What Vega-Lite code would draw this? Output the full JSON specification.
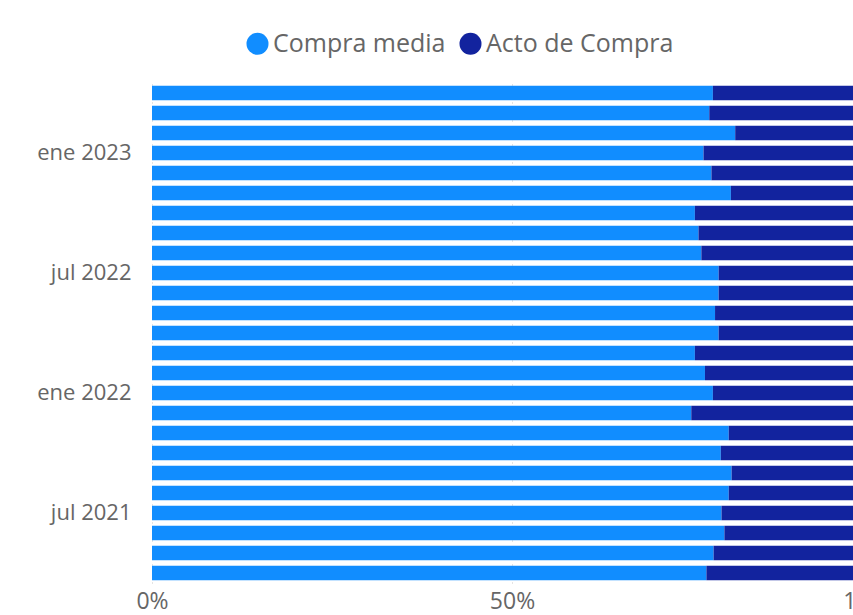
{
  "$schema": "https://vega.github.io/schema/vega-lite/v6.json",
  "autosize": {"type": "none"},
  "width": 701,
  "height": 500,
  "padding": {"left": 152, "top": 83, "right": 0, "bottom": 32},
  "background": "white",
  "config": {"view": {"stroke": null}, "font": "Open Sans"},
  "data": {
    "values": [
      {"mes": "abr 2023", "serie": "Compra media", "orden": 1, "valor": 77.9},
      {"mes": "abr 2023", "serie": "Acto de Compra", "orden": 2, "valor": 22.1},
      {"mes": "mar 2023", "serie": "Compra media", "orden": 1, "valor": 77.4},
      {"mes": "mar 2023", "serie": "Acto de Compra", "orden": 2, "valor": 22.6},
      {"mes": "feb 2023", "serie": "Compra media", "orden": 1, "valor": 81.0},
      {"mes": "feb 2023", "serie": "Acto de Compra", "orden": 2, "valor": 19.0},
      {"mes": "ene 2023", "serie": "Compra media", "orden": 1, "valor": 76.6},
      {"mes": "ene 2023", "serie": "Acto de Compra", "orden": 2, "valor": 23.4},
      {"mes": "dic 2022", "serie": "Compra media", "orden": 1, "valor": 77.7},
      {"mes": "dic 2022", "serie": "Acto de Compra", "orden": 2, "valor": 22.3},
      {"mes": "nov 2022", "serie": "Compra media", "orden": 1, "valor": 80.4},
      {"mes": "nov 2022", "serie": "Acto de Compra", "orden": 2, "valor": 19.6},
      {"mes": "oct 2022", "serie": "Compra media", "orden": 1, "valor": 75.4},
      {"mes": "oct 2022", "serie": "Acto de Compra", "orden": 2, "valor": 24.6},
      {"mes": "sept 2022", "serie": "Compra media", "orden": 1, "valor": 75.9},
      {"mes": "sept 2022", "serie": "Acto de Compra", "orden": 2, "valor": 24.1},
      {"mes": "ago 2022", "serie": "Compra media", "orden": 1, "valor": 76.3},
      {"mes": "ago 2022", "serie": "Acto de Compra", "orden": 2, "valor": 23.7},
      {"mes": "jul 2022", "serie": "Compra media", "orden": 1, "valor": 78.7},
      {"mes": "jul 2022", "serie": "Acto de Compra", "orden": 2, "valor": 21.3},
      {"mes": "jun 2022", "serie": "Compra media", "orden": 1, "valor": 78.7},
      {"mes": "jun 2022", "serie": "Acto de Compra", "orden": 2, "valor": 21.3},
      {"mes": "may 2022", "serie": "Compra media", "orden": 1, "valor": 78.2},
      {"mes": "may 2022", "serie": "Acto de Compra", "orden": 2, "valor": 21.8},
      {"mes": "abr 2022", "serie": "Compra media", "orden": 1, "valor": 78.7},
      {"mes": "abr 2022", "serie": "Acto de Compra", "orden": 2, "valor": 21.3},
      {"mes": "mar 2022", "serie": "Compra media", "orden": 1, "valor": 75.4},
      {"mes": "mar 2022", "serie": "Acto de Compra", "orden": 2, "valor": 24.6},
      {"mes": "feb 2022", "serie": "Compra media", "orden": 1, "valor": 76.8},
      {"mes": "feb 2022", "serie": "Acto de Compra", "orden": 2, "valor": 23.2},
      {"mes": "ene 2022", "serie": "Compra media", "orden": 1, "valor": 77.9},
      {"mes": "ene 2022", "serie": "Acto de Compra", "orden": 2, "valor": 22.1},
      {"mes": "dic 2021", "serie": "Compra media", "orden": 1, "valor": 74.9},
      {"mes": "dic 2021", "serie": "Acto de Compra", "orden": 2, "valor": 25.1},
      {"mes": "nov 2021", "serie": "Compra media", "orden": 1, "valor": 80.1},
      {"mes": "nov 2021", "serie": "Acto de Compra", "orden": 2, "valor": 19.9},
      {"mes": "oct 2021", "serie": "Compra media", "orden": 1, "valor": 79.0},
      {"mes": "oct 2021", "serie": "Acto de Compra", "orden": 2, "valor": 21.0},
      {"mes": "sept 2021", "serie": "Compra media", "orden": 1, "valor": 80.5},
      {"mes": "sept 2021", "serie": "Acto de Compra", "orden": 2, "valor": 19.5},
      {"mes": "ago 2021", "serie": "Compra media", "orden": 1, "valor": 80.1},
      {"mes": "ago 2021", "serie": "Acto de Compra", "orden": 2, "valor": 19.9},
      {"mes": "jul 2021", "serie": "Compra media", "orden": 1, "valor": 79.1},
      {"mes": "jul 2021", "serie": "Acto de Compra", "orden": 2, "valor": 20.9},
      {"mes": "jun 2021", "serie": "Compra media", "orden": 1, "valor": 79.5},
      {"mes": "jun 2021", "serie": "Acto de Compra", "orden": 2, "valor": 20.5},
      {"mes": "may 2021", "serie": "Compra media", "orden": 1, "valor": 78.0},
      {"mes": "may 2021", "serie": "Acto de Compra", "orden": 2, "valor": 22.0},
      {"mes": "abr 2021", "serie": "Compra media", "orden": 1, "valor": 77.0},
      {"mes": "abr 2021", "serie": "Acto de Compra", "orden": 2, "valor": 23.0}
    ]
  },
  "mark": {"type": "bar", "clip": true},
  "encoding": {
    "y": {
      "field": "mes",
      "type": "nominal",
      "sort": null,
      "scale": {"paddingInner": 0.27, "paddingOuter": 0.135},
      "axis": {
        "title": null,
        "values": ["ene 2023", "jul 2022", "ene 2022", "jul 2021"],
        "domain": false,
        "ticks": false,
        "labelFontSize": 22,
        "labelColor": "#666666",
        "labelPadding": 21,
        "labelFont": "Open Sans"
      }
    },
    "x": {
      "field": "valor",
      "type": "quantitative",
      "stack": "normalize",
      "scale": {"domain": [0, 1], "range": [0, 720], "nice": false},
      "axis": {
        "title": null,
        "values": [0, 0.5, 1],
        "format": ".0%",
        "domain": false,
        "ticks": false,
        "grid": true,
        "gridColor": "#c8c8c8",
        "gridDash": [1, 5],
        "gridWidth": 1,
        "labelFontSize": 23,
        "labelColor": "#666666",
        "labelPadding": 7,
        "labelFlush": false,
        "labelOverlap": false,
        "labelBound": false,
        "labelFont": "Open Sans"
      }
    },
    "color": {
      "field": "serie",
      "type": "nominal",
      "scale": {"domain": ["Compra media", "Acto de Compra"], "range": ["#118DFF", "#12239E"]},
      "legend": {
        "title": null,
        "orient": "none",
        "direction": "horizontal",
        "legendX": 93,
        "legendY": -52,
        "symbolType": "circle",
        "symbolSize": 484,
        "symbolStrokeWidth": 0,
        "labelFontSize": 25,
        "labelLimit": 400,
        "labelColor": "#666666",
        "labelFont": "Open Sans",
        "labelOffset": 3,
        "columnPadding": 12
      }
    },
    "order": {"field": "orden", "type": "quantitative"}
  }
}
